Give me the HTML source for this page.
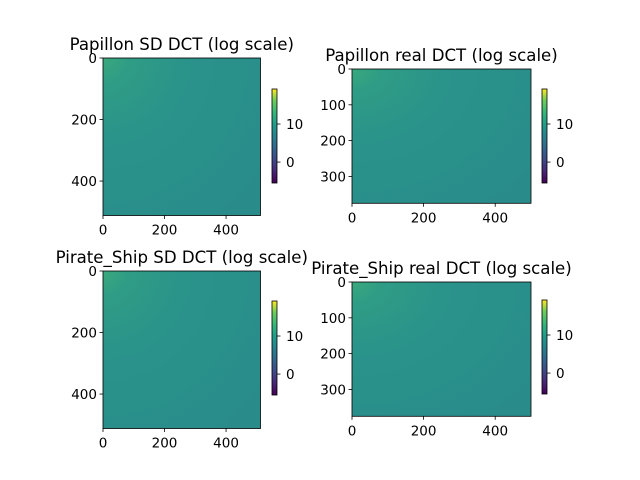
<!DOCTYPE html>
<html><head><meta charset="utf-8"><style>
body{margin:0;background:#fff}
svg{display:block;font-family:"DejaVu Sans","Liberation Sans",sans-serif}
</style></head><body>
<svg id="fig" width="640" height="480" viewBox="0 0 640 480">
<defs>
<radialGradient id="heat" cx="0" cy="0" r="1.3" gradientUnits="objectBoundingBox">
<stop offset="0" stop-color="#3aa97c"/>
<stop offset="0.12" stop-color="#2f9d85"/>
<stop offset="0.4" stop-color="#2a938a"/>
<stop offset="1" stop-color="#298c8b"/>
</radialGradient>
<linearGradient id="viridis" x1="0" y1="1" x2="0" y2="0">
<stop offset="0" stop-color="#440154"/><stop offset="0.13" stop-color="#482878"/>
<stop offset="0.25" stop-color="#3e4a89"/><stop offset="0.38" stop-color="#31688e"/>
<stop offset="0.5" stop-color="#26828e"/><stop offset="0.63" stop-color="#1f9e89"/>
<stop offset="0.75" stop-color="#35b779"/><stop offset="0.88" stop-color="#6ece58"/>
<stop offset="1" stop-color="#fde725"/>
</linearGradient>
</defs>
</svg>
<script>
const titles=["Papillon SD DCT (log scale)","Papillon real DCT (log scale)","Pirate_Ship SD DCT (log scale)","Pirate_Ship real DCT (log scale)"];
const rows=[512,375,512,375];
const cols=[512,500,512,500];
const yTicks=[[0,200,400],[0,100,200,300],[0,200,400],[0,100,200,300]];
const xTicks=[[0,200,400],[0,200,400],[0,200,400],[0,200,400]];
const cbMin=-5.5, cbMax=19.2;
const cbTicks=[0,10];
const boxes=[{x:103,y:58,w:157.5,h:157.5,cx:272,cy:89},{x:352,y:69,w:179,h:134.3,cx:542,cy:89},
{x:103,y:271,w:157.5,h:157.5,cx:272,cy:301},{x:352,y:282,w:179,h:134.3,cx:542,cy:300}];
const svg=document.getElementById('fig');
const NS="http://www.w3.org/2000/svg";
function mk(t,a,p){const e=document.createElementNS(NS,t);for(const k in a)e.setAttribute(k,a[k]);(p||svg).appendChild(e);return e;}
titles.forEach((tt,i)=>{
 const b=boxes[i];
 const g=mk('g',{});
 
 
 const im=mk('rect',{x:b.x,y:b.y,width:b.w,height:b.h,fill:'url(#heat)'},g);
 
 
 const fr=mk('rect',{x:b.x,y:b.y,width:b.w,height:b.h,fill:'none',stroke:'#000','stroke-width':0.8},g);
 
 
 const t=mk('text',{x:b.x+b.w/2,y:b.y-8,'text-anchor':'middle','font-size':16.6},g);t.textContent=tt;
 
 
 const sx=v=>b.x+v/cols[i]*b.w, sy=v=>b.y+v/rows[i]*b.h;
 yTicks[i].forEach(v=>{const y=sy(v);mk('line',{x1:b.x-3.5,x2:b.x,y1:y,y2:y,stroke:'#000','stroke-width':0.8},g);
  const l=mk('text',{x:b.x-6,y:y+5,'text-anchor':'end','font-size':13.5},g);l.textContent=v;
  
  });
 xTicks[i].forEach(v=>{const x=sx(v);mk('line',{x1:x,x2:x,y1:b.y+b.h,y2:b.y+b.h+3.5,stroke:'#000','stroke-width':0.8},g);
  const l=mk('text',{x:x,y:b.y+b.h+19,'text-anchor':'middle','font-size':13.5},g);l.textContent=v;
  
  });
 const ch=94, cw=5;
 const cb=mk('rect',{x:b.cx,y:b.cy,width:cw,height:ch,fill:'url(#viridis)',stroke:'#000','stroke-width':0.8},g);
 
 
 const cyv=v=>b.cy+ch-(v-cbMin)/(cbMax-cbMin)*ch;
 cbTicks.forEach(v=>{const y=cyv(v);mk('line',{x1:b.cx+cw,x2:b.cx+cw+3.5,y1:y,y2:y,stroke:'#000','stroke-width':0.8},g);
  const l=mk('text',{x:b.cx+cw+9,y:y+5,'font-size':13.5},g);l.textContent=v;
  
  });
});
</script>
</body></html>
